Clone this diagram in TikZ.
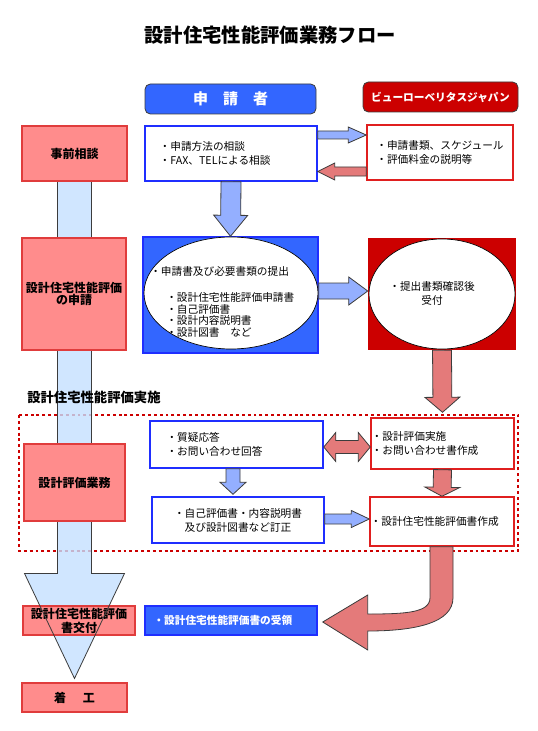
\documentclass[tikz,border=0pt]{standalone}
\usepackage{fontspec}
\setmainfont{Noto Sans CJK JP}
\usepackage{tikz}
\usetikzlibrary{calc,positioning,backgrounds,shapes.geometric}

\definecolor{pinkfill}{HTML}{FF8C8C}
\definecolor{pinkline}{HTML}{E03C3C}
\definecolor{skyfill}{HTML}{C4E0FF}
\definecolor{bluefill}{HTML}{3366FF}
\definecolor{blueline}{HTML}{1F2EFF}
\definecolor{periwinkle}{HTML}{94AFFF}
\definecolor{darkred}{HTML}{CC0000}
\definecolor{redline}{HTML}{E01F1F}
\definecolor{salmon}{HTML}{E47A7A}
\definecolor{edgegray}{HTML}{3C3C3C}

\begin{document}
\begin{tikzpicture}[x=0.75pt,y=-0.75pt]
      \tikzset{
	  boxtext/.style={font=\fontsize{8pt}{10.5pt}\selectfont},
	  leftbox/.style={rectangle, draw=pinkline, fill=pinkfill, line width=0.8pt, align=center, inner sep=0pt, font=\bfseries\fontsize{9pt}{10.5pt}\selectfont},
	  headbox/.style={rectangle, rounded corners=4pt, draw=edgegray, line width=0.6pt, text=white, inner sep=0pt},
	  bluebox/.style={rectangle, draw=blueline, fill=white, line width=1.1pt, align=left, boxtext},
	  redbox/.style={rectangle, draw=redline, fill=white, line width=1.1pt, align=left, boxtext},
	  oval/.style={ellipse, draw=black, fill=white, line width=0.5pt, inner sep=0pt},
	  bluearr/.style={draw=edgegray, fill=periwinkle, line width=0.6pt},
	  redarr/.style={draw=edgegray, fill=salmon, line width=0.6pt},
	  skyarr/.style={draw=edgegray, fill=skyfill, fill opacity=0.8, line width=0.6pt},
	  skyline/.style={draw=edgegray, line width=0.6pt},
	  dotframe/.style={draw=darkred, line width=2.2pt, dash pattern=on 2.2pt off 2.2pt}
      }

      %-----#1 style, #2 tail, #3 tip, #4 half shaft, #5 half head,
      %-----#6 head length
      \def\barrow[#1,#2,#3,#4,#5,#6]{%
	\coordinate (hb) at ($#3!#6!#2$);%
	\draw[#1] ($#2!#4!90:#3$) -- ($(hb)!#4!90:#3$) -- ($(hb)!#5!90:#3$) -- #3
	-- ($(hb)!#5!-90:#3$) -- ($(hb)!#4!-90:#3$) -- ($#2!#4!-90:#3$) -- cycle;}
      %-----same, with a head at both ends
      \def\dbarrow[#1,#2,#3,#4,#5,#6]{%
	\coordinate (hb) at ($#3!#6!#2$);%
	\coordinate (ht) at ($#2!#6!#3$);%
	\draw[#1] #2 -- ($(ht)!#5!90:#3$) -- ($(ht)!#4!90:#3$) -- ($(hb)!#4!90:#3$) -- ($(hb)!#5!90:#3$) -- #3
	-- ($(hb)!#5!-90:#3$) -- ($(hb)!#4!-90:#3$) -- ($(ht)!#4!-90:#3$) -- ($(ht)!#5!-90:#3$) -- cycle;}

      \useasboundingbox (0,0) rectangle (538,731);

      \node (title) at (270,35) [font=\bfseries\fontsize{14.5pt}{16pt}\selectfont] {設計住宅性能評価業務フロー};
      \node (applicant) at (230.5,99) [headbox, fill=bluefill, minimum width=128.25pt, minimum height=22.5pt, font=\bfseries\fontsize{11.25pt}{12pt}\selectfont] {申　請　者};
      \node (bureau) at (440.5,97) [headbox, fill=darkred, minimum width=116.25pt, minimum height=22.5pt, font=\bfseries\fontsize{8pt}{9pt}\selectfont] {ビューローベリタスジャパン};

      \node (pre) at (74.5,153.5) [leftbox, minimum width=78.75pt, minimum height=41.25pt] {事前相談};
      \node (consult) at (231,153.5) [bluebox, inner xsep=11pt, text width=107pt, minimum height=41.25pt] {・申請方法の相談\\・FAX、TELによる相談};
      \node (rtop) at (440,152.5) [redbox, inner xsep=7pt, text width=95.5pt, minimum height=41.25pt] {・申請書類、スケジュール\\・評価料金の説明等};

      \node (apply) at (74,294) [leftbox, minimum width=78pt, minimum height=84pt, font=\bfseries\fontsize{9pt}{9.5pt}\selectfont] {設計住宅性能評価\\の申請};
      \node (submit) at (230.5,295) [rectangle, draw=blueline, fill=bluefill, line width=1.1pt, minimum width=131.25pt, minimum height=87pt] {};
      \node (subov) at (231,293) [oval, minimum width=130.5pt, minimum height=84pt] {};
      \node (subtxt) at (150,302) [anchor=west, align=left, inner sep=0pt, font=\fontsize{8pt}{8.75pt}\selectfont] {・申請書及び必要書類の提出\\[10.75pt]\hspace*{12pt}・設計住宅性能評価申請書\\\hspace*{12pt}・自己評価書\\\hspace*{12pt}・設計内容説明書\\\hspace*{12pt}・設計図書　など};
      \node (accept) at (442,294) [rectangle, fill=darkred, minimum width=111pt, minimum height=84pt] {};
      \node (accov) at (442,294) [oval, minimum width=109.5pt, minimum height=82.5pt] {};
      \node (acctxt) at (432,293) [align=center, inner sep=0pt, boxtext] {・提出書類確認後\\受付};

      \node (implab) at (27,397) [anchor=west, inner sep=0pt, font=\bfseries\fontsize{10pt}{11pt}\selectfont] {設計住宅性能評価実施};
      \node (evalwork) at (74.5,482.5) [leftbox, minimum width=75.75pt, minimum height=57.75pt] {設計評価業務};
      \node (qa) at (236.5,444.5) [bluebox, inner xsep=12.4pt, text width=105pt, minimum height=35.25pt] {・質疑応答\\・お問い合わせ回答};
      \node (evalrun) at (442.5,443.5) [redbox, inner xsep=0.5pt, text width=106.25pt, minimum height=38.25pt] {・設計評価実施\\・お問い合わせ書作成};
      \node (fix) at (238,520) [bluebox, align=center, minimum width=129pt, minimum height=34.5pt] {・自己評価書・内容説明書\\及び設計図書など訂正};
      \node (report) at (442,521.5) [redbox, inner xsep=0.5pt, text width=107pt, minimum height=36.75pt] {・設計住宅性能評価書作成};

      \node (issue) at (79,620.5) [leftbox, minimum width=84pt, minimum height=21.75pt] {設計住宅性能評価\\書交付};
      \node (receive) at (231,620.5) [rectangle, draw=blueline, fill=bluefill, line width=1.1pt, text=white, align=left, inner xsep=6.4pt, text width=116.2pt, minimum height=21.75pt, font=\bfseries\fontsize{8pt}{9pt}\selectfont] {・設計住宅性能評価書の受領};
      \node (start) at (74.5,697.5) [leftbox, minimum width=78.75pt, minimum height=21.75pt] {着\hspace{12.75pt}工};

      \coordinate (a1) at ($(rtop.west)+(0,-17.5)$);
      \coordinate (a3) at ($(consult.east)+(0,18)$);
      \coordinate (a2) at ($(accept.west)+(0,-3)$);
      \coordinate (a4) at ($(fix.north)+(-5,-2)$);
      \coordinate (a5) at ($(report.west)+(0,-2.5)$);
      \coordinate (a6) at ($(evalrun.north)+(0,-5)$);
      \coordinate (a7) at ($(qa.east)+(0,2.5)$);
      \coordinate (lt) at ($(start.north)+(0,-4)$);

      \barrow[bluearr,(consult.east |- a1),(a1),3pt,6pt,13.5pt]
      \barrow[redarr,(rtop.west |- a3),(a3),3.4pt,6.4pt,12.75pt]
      \barrow[bluearr,(consult.south),(submit.north),7.5pt,12.75pt,15.75pt]
      \barrow[bluearr,(submit.east |- a2),(a2),6pt,10.5pt,14.25pt]
      \barrow[redarr,(accept.south),(a6),7.1pt,13.1pt,11.25pt]
      \barrow[bluearr,(qa.south -| a4),(a4),5.25pt,9.75pt,9pt]
      \barrow[bluearr,(fix.east |- a5),(a5),3.75pt,6.4pt,13.5pt]
      \barrow[redarr,(evalrun.south),(report.north),6.75pt,13.1pt,6.75pt]
      \dbarrow[redarr,(a7),(evalrun.west |- a7),4.9pt,10.9pt,9pt]

      \coordinate (cvtip) at ($(receive.east)+(5,1.5)$);
      \draw[redarr] ($(report.south)+(-12,0)$) -- ++(0,51) .. controls +(0,15) and +(38,0) .. ($(cvtip)+(45,-8)$)
	-- ++(0,-19) -- (cvtip) -- ($(cvtip)+(45,28)$) -- ++(0,-19)
	.. controls +(48,0) and +(0,25) .. ($(report.south)+(11,51)$) -- ++(0,-51) -- cycle;

      \begin{scope}[on background layer]
	\draw[dotframe] (19,415) rectangle (518,551);
	\barrow[skyarr,(pre.south),(lt),12.75pt,37.5pt,78.75pt]
      \end{scope}
      \begin{scope}
	\clip (issue.south west) rectangle (issue.north east);
	\barrow[skyline,(pre.south),(lt),12.75pt,37.5pt,78.75pt]
      \end{scope}
\end{tikzpicture}
\end{document}
